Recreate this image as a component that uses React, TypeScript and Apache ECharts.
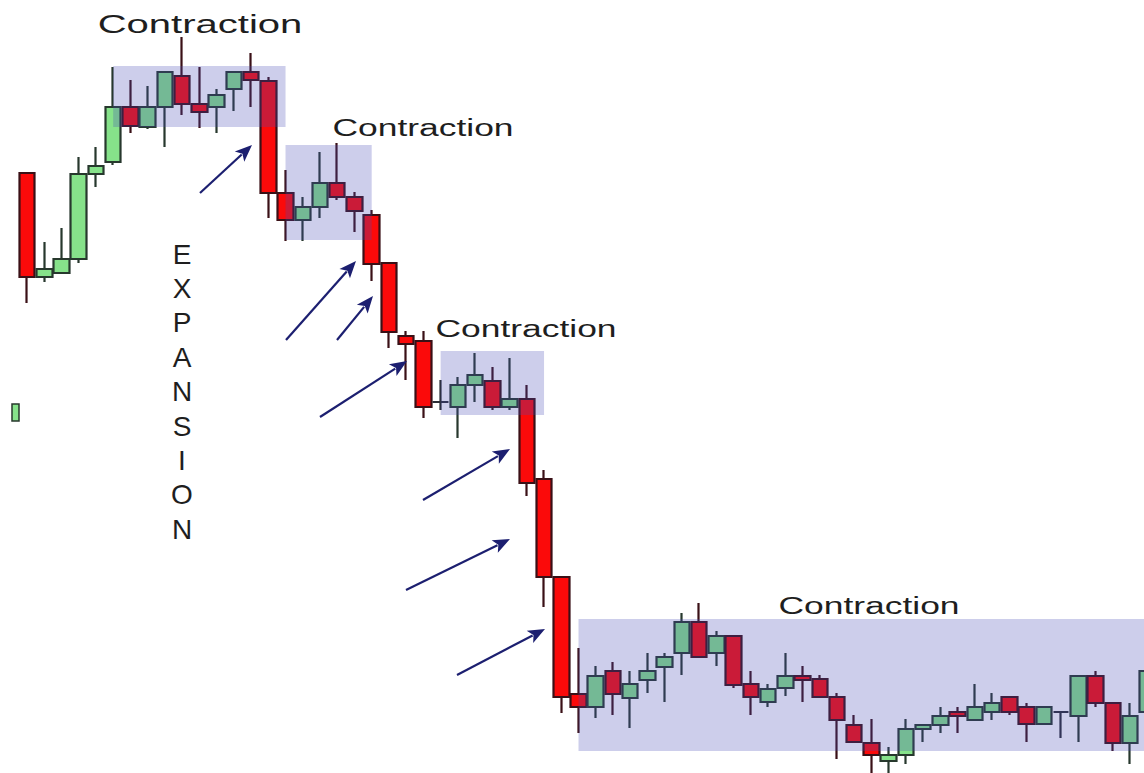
import React, { useEffect, useRef } from 'react';
import * as echarts from 'echarts';

// Price values (value axis units), one entry per candle
const opens = [627, 523, 527, 541, 626, 638, 693, 673, 693, 724, 696, 693, 711, 728, 719, 607, 580, 593, 617, 603, 585, 537, 464, 459, 398, 393, 415, 419, 393, 401, 321, 223, 106, 93, 129, 102, 120, 133, 147, 178, 147, 164, 116, 98, 112, 124, 121, 103, 75, 57, 39, 45, 71, 75, 88, 80, 88, 103, 93, 76, 88, 84, 124, 97, 57, 88];
const closes = [523, 531, 541, 626, 634, 693, 674, 693, 728, 696, 688, 705, 728, 720, 607, 580, 593, 617, 603, 589, 536, 468, 456, 393, 398, 415, 425, 393, 401, 317, 223, 103, 93, 124, 106, 116, 129, 143, 178, 143, 164, 115, 103, 111, 124, 120, 103, 80, 58, 45, 45, 71, 75, 84, 84, 93, 97, 88, 76, 93, 88, 124, 97, 57, 84, 129];
const lows = [497, 518, 527, 537, 613, 635, 667, 671, 653, 685, 672, 667, 689, 693, 582, 559, 559, 582, 600, 568, 519, 452, 420, 382, 390, 362, 398, 390, 390, 304, 193, 87, 67, 82, 85, 72, 107, 98, 125, 143, 134, 112, 85, 93, 104, 98, 103, 41, 58, 20, 20, 36, 58, 67, 67, 80, 80, 85, 58, 76, 62, 58, 93, 49, 36, 88];
const highs = [628, 558, 572, 643, 653, 733, 720, 714, 728, 763, 733, 711, 728, 747, 723, 630, 603, 648, 657, 608, 590, 537, 469, 469, 420, 423, 447, 433, 442, 415, 330, 223, 152, 134, 138, 129, 147, 147, 187, 197, 169, 164, 129, 116, 147, 134, 125, 107, 85, 81, 53, 81, 75, 93, 93, 116, 107, 103, 97, 93, 88, 124, 129, 97, 97, 129];
// candle positions (session index)
const sessions = opens.map((_, i) => i);

// Contraction zones (session index range, value range)
const zoneStarts = [5, 15, 24, 32];
const zoneEnds: (number | null)[] = [15, 20, 30, null];
const zoneTops = [734, 655, 449, 181];
const zoneBottoms = [673, 560, 385, 49];

// Annotation texts
const labelTexts = ['Contraction', 'Contraction', 'Contraction', 'Contraction'];
const verticalWord = 'EXPANSION';

export default function App() {
  const ref = useRef<HTMLDivElement>(null);

  useEffect(() => {
    document.body.style.margin = '0';
    const el = ref.current!;
    const chart = echarts.init(el, null, { renderer: 'svg' });
    const data = sessions.map((s, i) => [s, opens[i], closes[i], lows[i], highs[i]]);
    const band = 17.234;
    const gridLeft = 18.4;
    const gridWidth = 1144 - gridLeft;
    chart.setOption({
      animation: false,
      backgroundColor: '#ffffff',
      grid: { left: gridLeft, top: 0, right: 0, bottom: 0 },
      xAxis: {
        type: 'value',
        min: -0.5,
        max: -0.5 + gridWidth / band,
        show: false,
        splitLine: { show: false },
      },
      yAxis: { type: 'value', min: 27, max: 800, show: false, splitLine: { show: false } },
      series: [
        {
          type: 'candlestick',
          data,
          encode: { x: 0, y: [1, 2, 3, 4] },
          barWidth: 16,
          silent: true,
          clip: false,
          itemStyle: {
            color: '#86e28a',
            color0: '#fb0a0a',
            borderColor: '#27382d',
            borderColor0: '#3a1016',
            borderColorDoji: '#2a2d35',
            borderWidth: 2.2,
          },
        },
      ],
    });

    const toPx = (i: number, v: number) => chart.convertToPixel({ gridIndex: 0 }, [i, v]) as number[];
    const W = 1144;
    const elements: any[] = [];

    // overlays
    zoneStarts.forEach((s, k) => {
      const p1 = toPx(s, zoneTops[k]);
      const e = zoneEnds[k];
      const p2 = e === null ? [W, toPx(s, zoneBottoms[k])[1]] : toPx(e, zoneBottoms[k]);
      elements.push({
        type: 'rect',
        z: 50,
        silent: true,
        shape: { x: p1[0], y: p1[1], width: p2[0] - p1[0], height: p2[1] - p1[1] },
        style: { fill: 'rgba(70,75,180,0.27)' },
      });
    });

    // small fragment at left edge
    elements.push({
      type: 'rect',
      z: 40,
      shape: { x: 12, y: 404, width: 7, height: 17 },
      style: { fill: '#86e28a', stroke: '#27382d', lineWidth: 1.5 },
    });

    // Contraction labels
    const labelX = [200, 423, 526, 869];
    const labelY = [24, 128, 329, 606];
    const labelSize = [26, 23, 23, 23];
    labelTexts.forEach((t, k) => {
      elements.push({
        type: 'text',
        z: 60,
        x: labelX[k],
        y: labelY[k],
        scaleX: 1.54,
        style: {
          text: t,
          x: 0,
          y: 0,
          fontSize: labelSize[k],
          fontFamily: '"Liberation Sans", Arial, sans-serif',
          fill: '#1e1e1e',
          align: 'center',
          verticalAlign: 'middle',
          textAlign: 'center',
          textVerticalAlign: 'middle',
        },
      });
    });

    // EXPANSION vertical letters
    verticalWord.split('').forEach((ch, i) => {
      elements.push({
        type: 'text',
        z: 60,
        x: 182,
        y: 254 + i * 34.4,
        style: {
          text: ch,
          x: 0,
          y: 0,
          fontSize: 28,
          fontFamily: '"Liberation Sans", Arial, sans-serif',
          fill: '#1e1e1e',
          align: 'center',
          verticalAlign: 'middle',
          textAlign: 'center',
          textVerticalAlign: 'middle',
        },
      });
    });

    // arrows
    const arrowTails = [[200, 193], [286, 340], [337, 340], [320, 417], [423, 500], [406, 590], [457, 675]];
    const arrowTips = [[252, 145], [356, 261], [373, 296], [407, 361], [510, 449], [510, 539], [545, 629]];
    const navy = '#1c1f70';
    arrowTails.forEach((t, k) => {
      const tip = arrowTips[k];
      const dx = tip[0] - t[0];
      const dy = tip[1] - t[1];
      const len = Math.sqrt(dx * dx + dy * dy);
      const ux = dx / len;
      const uy = dy / len;
      const nx = -uy;
      const ny = ux;
      const L = 17;
      const Hw = 7;
      const bx = tip[0] - ux * L;
      const by = tip[1] - uy * L;
      elements.push({
        type: 'line',
        z: 60,
        shape: { x1: t[0], y1: t[1], x2: bx + ux * 3, y2: by + uy * 3 },
        style: { stroke: navy, lineWidth: 2.2 },
      });
      elements.push({
        type: 'polygon',
        z: 60,
        shape: {
          points: [
            [tip[0], tip[1]],
            [bx + nx * Hw, by + ny * Hw],
            [bx + ux * 4, by + uy * 4],
            [bx - nx * Hw, by - ny * Hw],
          ],
        },
        style: { fill: navy },
      });
    });

    chart.setOption({ graphic: { elements } });

    return () => {
      chart.dispose();
    };
  }, []);

  return <div ref={ref} style={{ width: 1144, height: 773 }} />;
}
